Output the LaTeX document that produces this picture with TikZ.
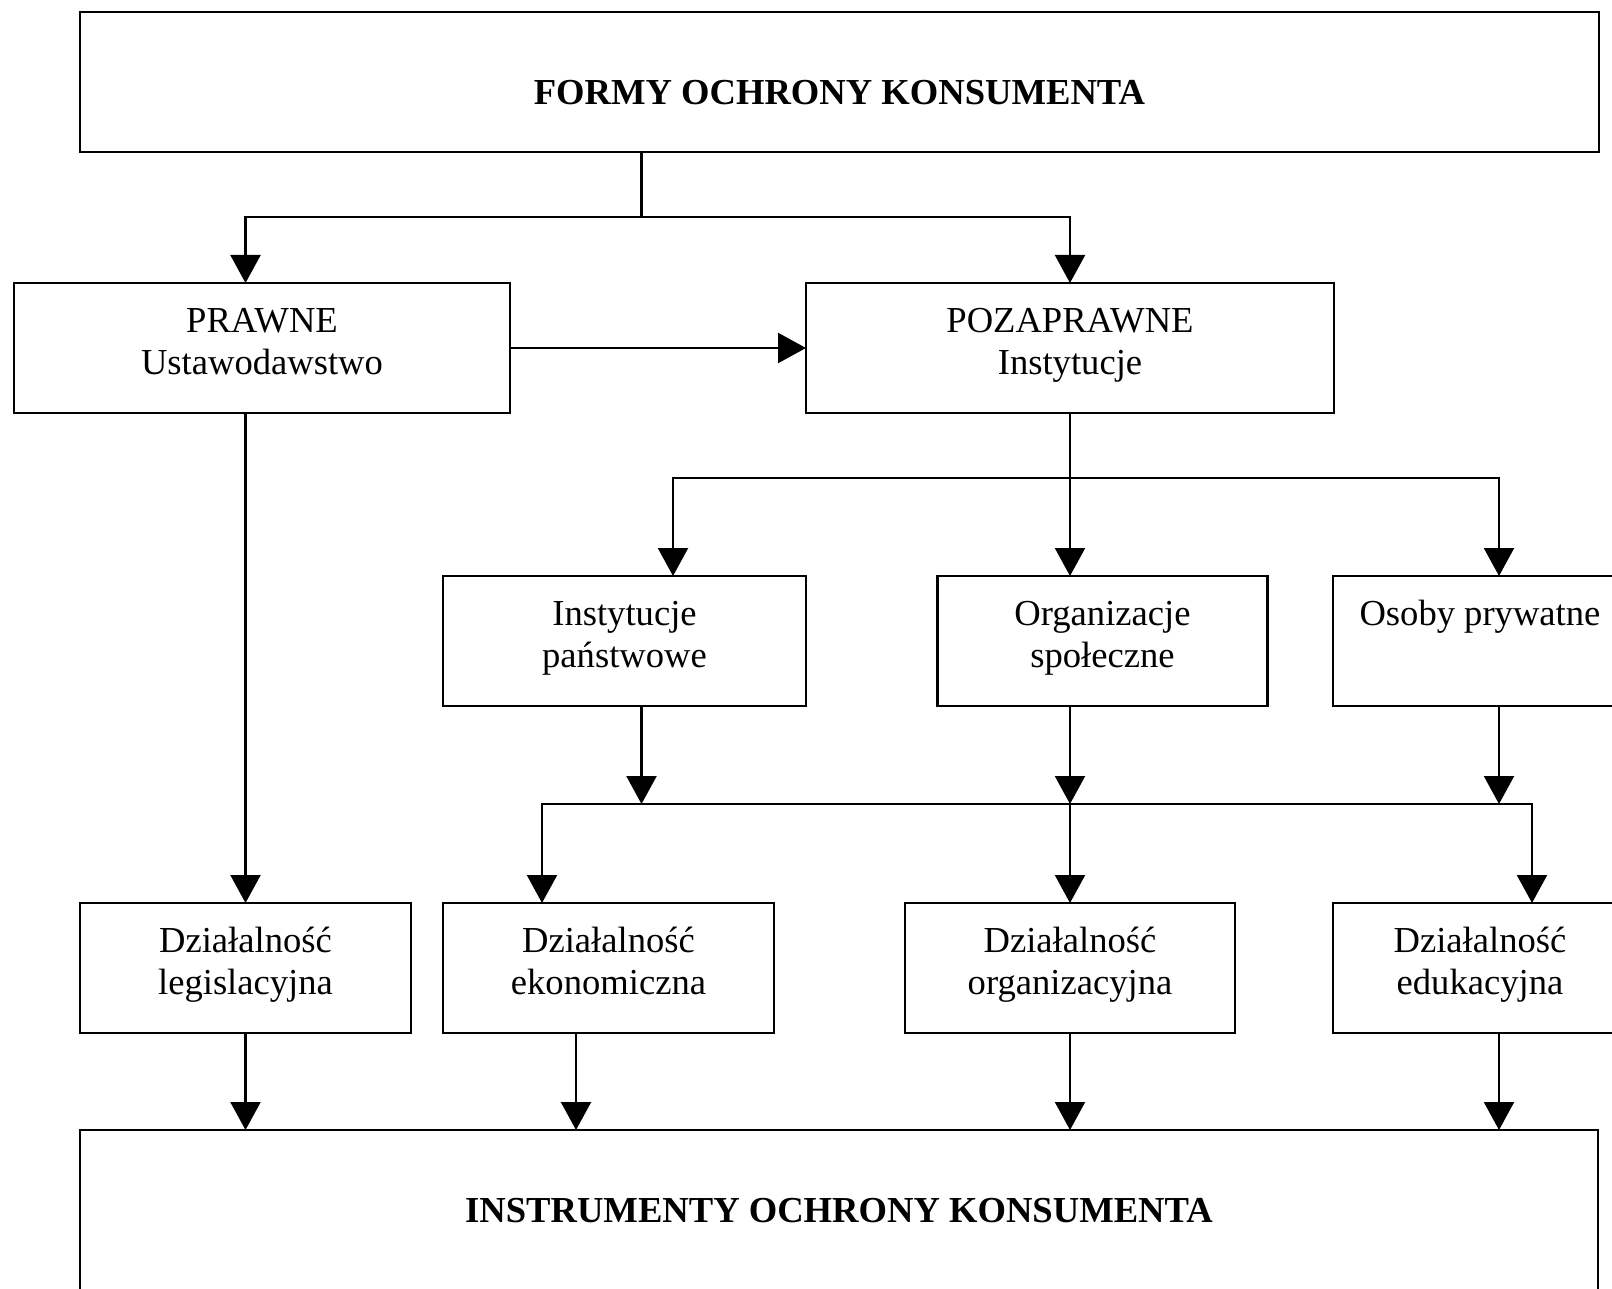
\documentclass[tikz,border=0pt]{standalone}
\usepackage{fontspec}
\setmainfont{Liberation Serif}
\usetikzlibrary{arrows.meta}
\newcommand\bxt[4]{\parbox[c][#2][t]{#1}{\vspace*{#3}\centering\strut #4}}
\begin{document}
\begin{tikzpicture}[x=0.5pt,y=-0.5pt,
  box/.style={draw, line width=1.1pt, inner sep=0pt, outer sep=0pt, anchor=north west,
    font=\fontsize{18.3pt}{21pt}\selectfont},
  arr/.style={-{Triangle[width=15pt,length=14pt]}, line width=1.1pt},
  conn/.style={line width=1.1pt}]
\clip (0,0) rectangle (1612,1289);
\fill[white] (0,0) rectangle (1612,1289);
% boxes
\node[box] (top) at (80,12) {\bxt{759.5pt}{70pt}{31.6pt}{\textbf{FORMY OCHRONY KONSUMENTA}}};
\node[box] (prawne) at (14,283) {\bxt{248pt}{65pt}{10.2pt}{PRAWNE\\Ustawodawstwo}};
\node[box] (pozaprawne) at (806,283) {\bxt{264pt}{65pt}{10.2pt}{POZAPRAWNE\\Instytucje}};
\node[box] (panst) at (443,576) {\bxt{181.5pt}{65pt}{10.2pt}{Instytucje\\państwowe}};
\node[box] (org) at (937.5,576) {\bxt{165pt}{65pt}{10.2pt}{Organizacje\\społeczne}};
\node[box] (osoby) at (1333,576) {\bxt{147pt}{65pt}{10.2pt}{Osoby prywatne}};
\node[box] (leg) at (80,903) {\bxt{165.5pt}{65pt}{10.2pt}{Działalność\\legislacyjna}};
\node[box] (ekon) at (443,903) {\bxt{165.5pt}{65pt}{10.2pt}{Działalność\\ekonomiczna}};
\node[box] (organiz) at (905,903) {\bxt{165pt}{65pt}{10.2pt}{Działalność\\organizacyjna}};
\node[box] (edu) at (1333,903) {\bxt{147pt}{65pt}{10.2pt}{Działalność\\edukacyjna}};
\node[box] (bottom) at (80,1130) {\bxt{759pt}{85pt}{31.6pt}{\textbf{INSTRUMENTY OCHRONY KONSUMENTA}}};
% junctions and columns
\coordinate (j1) at (641.5,217);
\coordinate (j2) at (1070,478);
\coordinate (j3) at (1070,804);
\coordinate (xa) at (673,0);
\coordinate (xb) at (1499,0);
\coordinate (xc) at (641.5,0);
\coordinate (xd) at (542,0);
\coordinate (xe) at (1532,0);
\coordinate (xf) at (576,0);
% connectors
\draw[conn] (top.south -| j1) -- (j1);
\draw[arr] (j1) -| (prawne.north -| leg.north);
\draw[arr] (j1) -| (pozaprawne.north);
\draw[arr] (prawne.south -| leg.north) -- (leg.north);
\draw[arr] (prawne) -- (pozaprawne);
\draw[conn] (pozaprawne.south) -- (j2);
\draw[arr] (j2) -| (panst.north -| xa);
\draw[arr] (j2) -- (org.north -| j2);
\draw[arr] (j2) -| (osoby.north -| xb);
\draw[arr] (panst.south -| xc) -- (j3 -| xc);
\draw[arr] (org.south -| j3) -- (j3);
\draw[arr] (osoby.south -| xb) -- (j3 -| xb);
\draw[arr] (j3) -| (ekon.north -| xd);
\draw[arr] (j3) -| (edu.north -| xe);
\draw[arr] (j3) -- (organiz.north);
\draw[arr] (leg.south) -- (bottom.north -| leg.south);
\draw[arr] (ekon.south -| xf) -- (bottom.north -| xf);
\draw[arr] (organiz.south) -- (bottom.north -| organiz.south);
\draw[arr] (edu.south -| xb) -- (bottom.north -| xb);
\end{tikzpicture}
\end{document}
